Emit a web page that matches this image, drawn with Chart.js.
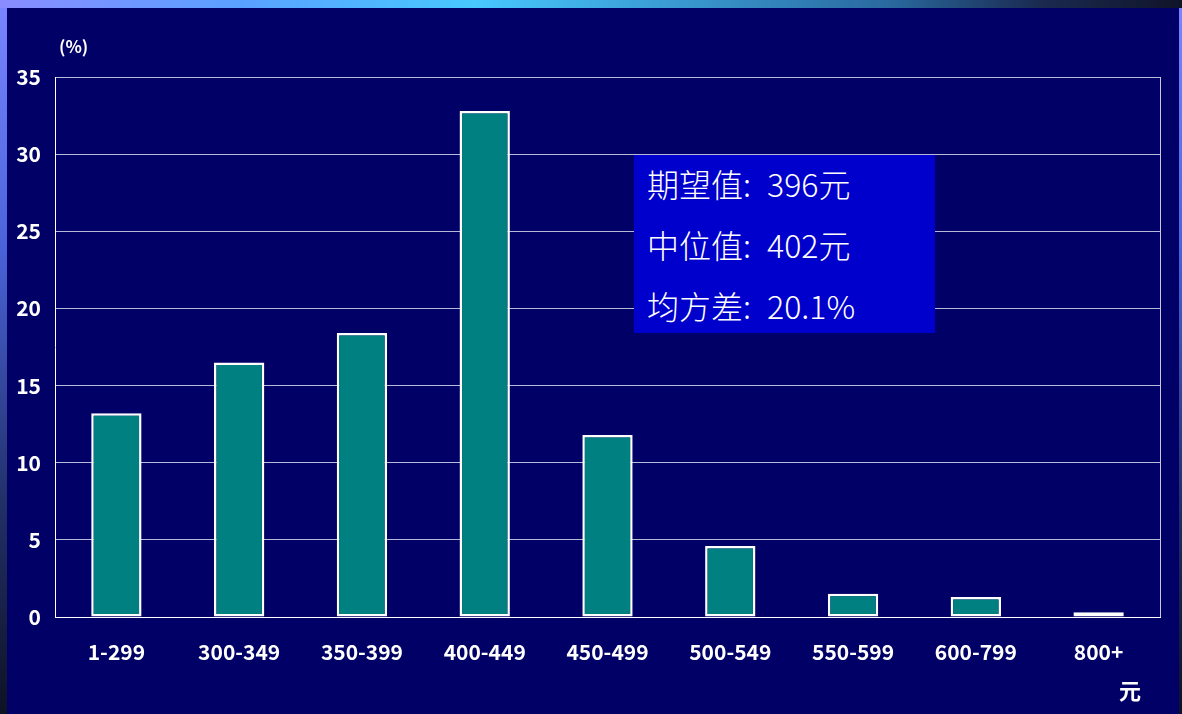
<!DOCTYPE html>
<html>
<head>
<meta charset="utf-8">
<script src="https://cdn.jsdelivr.net/npm/chart.js@4"></script>
<style>
  html, body { margin: 0; padding: 0; }
  body {
    width: 1182px; height: 714px; overflow: hidden; position: relative;
    background: linear-gradient(to bottom, #7a86ff 0%, #4a62d8 35%, #22306a 70%, #0e1224 100%);
  }
  #topstrip {
    position: absolute; left: 0; top: 0; width: 1182px; height: 8px;
    background: linear-gradient(to right, #8a8cff 0%, #5aa0ff 20%, #48c8ff 40%, #2a6aa0 75%, #1a2a50 88%, #101428 100%);
  }
  #frame {
    position: absolute; left: 7px; top: 8px; width: 1172px; height: 706px;
    background: #000066;
  }
  #frame canvas { position: absolute; left: 0; top: 0; }
  .lbl { position: absolute; color: #fff; font-family: "Noto Sans CJK SC", sans-serif; }
  #unitY { left: 52px; top: 25px; font-size: 17px; font-weight: bold; }
  #unitX { left: 1112px; top: 665px; font-size: 22px; font-weight: bold; }
  #info {
    position: absolute; left: 627px; top: 147px; width: 301px; height: 178px;
    background: #0000cc; color: #fff;
    font-family: "Noto Sans CJK SC", sans-serif; font-size: 32px; font-weight: 300;
  }
  #info div { position: absolute; left: 13px; line-height: 1; white-space: pre; word-spacing: 9px; }
</style>
</head>
<body>
<div id="topstrip"></div>
<div id="frame">
  <canvas id="myChart" width="1172" height="706"></canvas>
  <div class="lbl" id="unitY">(%)</div>
  <div class="lbl" id="unitX">元</div>
  <div id="info">
    <div style="top:12px">期望值: 396元</div>
    <div style="top:73px">中位值: 402元</div>
    <div style="top:134px">均方差: 20.1%</div>
  </div>
</div>
<script>
const priceRanges = ['1-299', '300-349', '350-399', '400-449', '450-499', '500-549', '550-599', '600-799', '800+'];
const sharePct = [13.2, 16.5, 18.4, 32.8, 11.8, 4.6, 1.5, 1.3, 0.3];
const yTicks = [0, 5, 10, 15, 20, 25, 30, 35];

const ctx = document.getElementById('myChart');

// right edge of the plot box
const plotFrame = {
  id: 'plotFrame',
  beforeDatasetsDraw(chart) {
    const a = chart.chartArea, c = chart.ctx;
    c.save();
    c.strokeStyle = '#c8c8dc';
    c.lineWidth = 1;
    c.beginPath();
    c.moveTo(Math.round(a.right) + 0.5, a.top);
    c.lineTo(Math.round(a.right) + 0.5, a.bottom);
    c.stroke();
    c.restore();
  }
};

const tickFont = { family: 'Noto Sans CJK SC', size: 21, weight: 'bold' };

new Chart(ctx, {
  type: 'bar',
  data: {
    labels: priceRanges,
    datasets: [{
      data: sharePct,
      backgroundColor: '#008080',
      borderColor: '#ffffff',
      borderWidth: 2.5,
      borderSkipped: false,
      barPercentage: 0.41,
      categoryPercentage: 1
    }]
  },
  options: {
    responsive: false,
    animation: false,
    layout: { padding: { top: 69, right: 19, left: 0, bottom: 0 } },
    plugins: { legend: { display: false }, tooltip: { enabled: false } },
    scales: {
      x: {
        grid: { display: false },
        border: { color: '#ffffff', width: 1 },
        ticks: { color: '#ffffff', padding: 14, font: tickFont },
        afterFit(s) { s.height = 97; }
      },
      y: {
        min: 0, max: 35,
        afterBuildTicks(s) { s.ticks = yTicks.map(v => ({ value: v })); },
        grid: { color: '#b8b8d8', lineWidth: 1, drawTicks: false },
        border: { color: '#ffffff', width: 1 },
        ticks: { color: '#ffffff', padding: 14, font: tickFont },
        afterFit(s) { s.width = 48; }
      }
    }
  },
  plugins: [plotFrame]
});
</script>
</body>
</html>
